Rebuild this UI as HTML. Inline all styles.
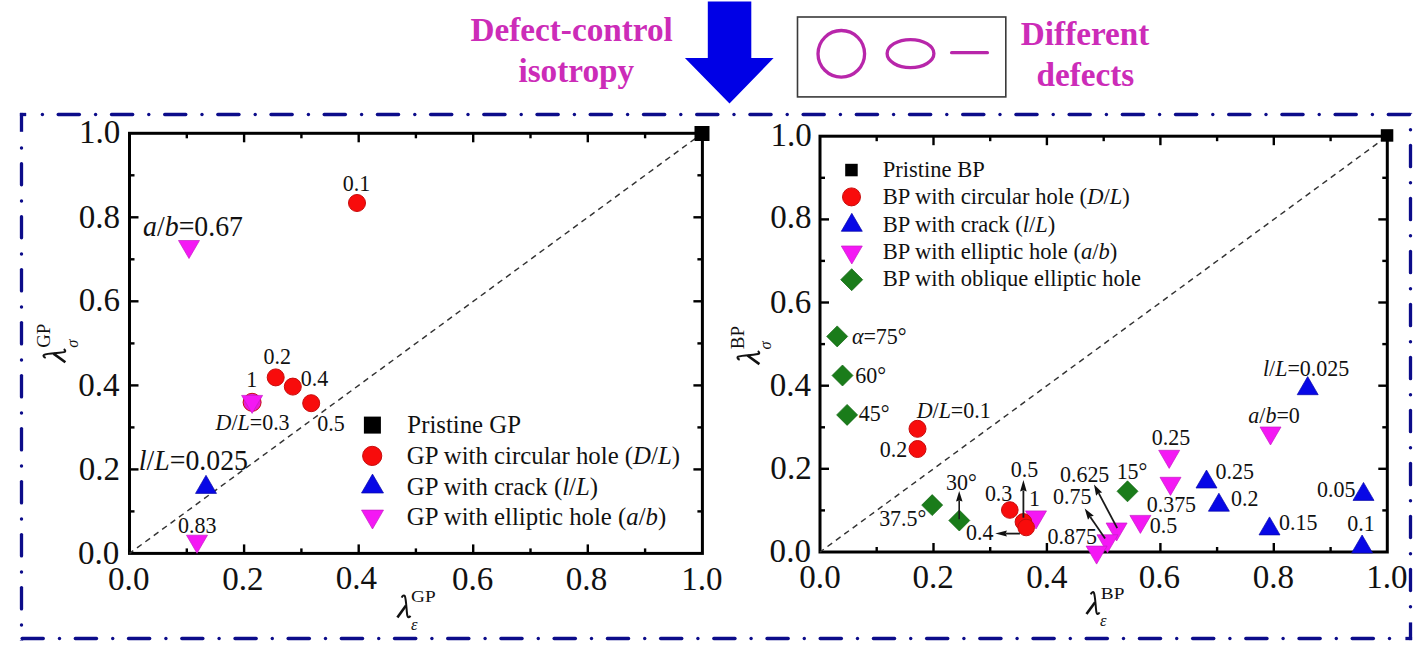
<!DOCTYPE html>
<html><head><meta charset="utf-8"><style>
html,body{margin:0;padding:0;background:#fff;}
svg{display:block;font-family:"Liberation Serif", serif;}
</style></head><body>
<svg width="1426" height="645" viewBox="0 0 1426 645">
<rect width="1426" height="645" fill="#fff"/>
<text id="t0" transform="translate(470.50 41.00) scale(1.0070 1.0000)" font-size="33" text-anchor="start" font-weight="bold" font-style="normal" fill="#cc2cb8" >Defect-control</text>
<text id="t1" transform="translate(518.40 81.80) scale(1.0070 1.0000)" font-size="33" text-anchor="start" font-weight="bold" font-style="normal" fill="#cc2cb8" >isotropy</text>
<text id="t2" transform="translate(1020.85 44.90) scale(1.0070 1.0000)" font-size="33" text-anchor="start" font-weight="bold" font-style="normal" fill="#cc2cb8" >Different</text>
<text id="t3" transform="translate(1036.45 86.00) scale(1.0070 1.0000)" font-size="33" text-anchor="start" font-weight="bold" font-style="normal" fill="#cc2cb8" >defects</text>
<polygon points="707.8,1.5 751.3,1.5 751.3,58 773.6,58 729.5,103.5 684.9,58 707.8,58" fill="#0000e6"/>
<rect x="797.5" y="17" width="208.3" height="79.9" fill="none" stroke="#3a3a3a" stroke-width="1.6"/>
<circle cx="841.3" cy="53.8" r="23.3" fill="none" stroke="#b826aa" stroke-width="3.3"/>
<ellipse cx="910.5" cy="53.6" rx="23.4" ry="14" fill="none" stroke="#b826aa" stroke-width="3.3"/>
<line x1="951.6" y1="52.7" x2="987.4" y2="52.7" stroke="#b826aa" stroke-width="3.3" stroke-linecap="round"/>
<line x1="19.9" y1="114.5" x2="26.2" y2="114.5" stroke="#0c0c8a" stroke-width="3.3" stroke-linecap="butt"/>
<circle cx="42.4" cy="114.5" r="1.7" fill="#0c0c8a"/>
<line x1="58.2" y1="114.5" x2="79.4" y2="114.5" stroke="#0c0c8a" stroke-width="3.3" stroke-linecap="round"/>
<circle cx="95.6" cy="114.5" r="1.7" fill="#0c0c8a"/>
<line x1="111.5" y1="114.5" x2="132.7" y2="114.5" stroke="#0c0c8a" stroke-width="3.3" stroke-linecap="round"/>
<circle cx="148.8" cy="114.5" r="1.7" fill="#0c0c8a"/>
<line x1="164.7" y1="114.5" x2="185.8" y2="114.5" stroke="#0c0c8a" stroke-width="3.3" stroke-linecap="round"/>
<circle cx="202.0" cy="114.5" r="1.7" fill="#0c0c8a"/>
<line x1="217.8" y1="114.5" x2="239.0" y2="114.5" stroke="#0c0c8a" stroke-width="3.3" stroke-linecap="round"/>
<circle cx="255.2" cy="114.5" r="1.7" fill="#0c0c8a"/>
<line x1="271.0" y1="114.5" x2="292.2" y2="114.5" stroke="#0c0c8a" stroke-width="3.3" stroke-linecap="round"/>
<circle cx="308.4" cy="114.5" r="1.7" fill="#0c0c8a"/>
<line x1="324.2" y1="114.5" x2="345.4" y2="114.5" stroke="#0c0c8a" stroke-width="3.3" stroke-linecap="round"/>
<circle cx="361.6" cy="114.5" r="1.7" fill="#0c0c8a"/>
<line x1="377.4" y1="114.5" x2="398.6" y2="114.5" stroke="#0c0c8a" stroke-width="3.3" stroke-linecap="round"/>
<circle cx="414.8" cy="114.5" r="1.7" fill="#0c0c8a"/>
<line x1="430.6" y1="114.5" x2="451.8" y2="114.5" stroke="#0c0c8a" stroke-width="3.3" stroke-linecap="round"/>
<circle cx="468.0" cy="114.5" r="1.7" fill="#0c0c8a"/>
<line x1="483.8" y1="114.5" x2="505.0" y2="114.5" stroke="#0c0c8a" stroke-width="3.3" stroke-linecap="round"/>
<circle cx="521.2" cy="114.5" r="1.7" fill="#0c0c8a"/>
<line x1="537.0" y1="114.5" x2="558.2" y2="114.5" stroke="#0c0c8a" stroke-width="3.3" stroke-linecap="round"/>
<circle cx="574.4" cy="114.5" r="1.7" fill="#0c0c8a"/>
<line x1="590.2" y1="114.5" x2="611.5" y2="114.5" stroke="#0c0c8a" stroke-width="3.3" stroke-linecap="round"/>
<circle cx="627.6" cy="114.5" r="1.7" fill="#0c0c8a"/>
<line x1="643.5" y1="114.5" x2="664.7" y2="114.5" stroke="#0c0c8a" stroke-width="3.3" stroke-linecap="round"/>
<circle cx="680.8" cy="114.5" r="1.7" fill="#0c0c8a"/>
<line x1="696.7" y1="114.5" x2="717.9" y2="114.5" stroke="#0c0c8a" stroke-width="3.3" stroke-linecap="round"/>
<circle cx="734.0" cy="114.5" r="1.7" fill="#0c0c8a"/>
<line x1="749.9" y1="114.5" x2="771.1" y2="114.5" stroke="#0c0c8a" stroke-width="3.3" stroke-linecap="round"/>
<circle cx="787.2" cy="114.5" r="1.7" fill="#0c0c8a"/>
<line x1="803.1" y1="114.5" x2="824.3" y2="114.5" stroke="#0c0c8a" stroke-width="3.3" stroke-linecap="round"/>
<circle cx="840.4" cy="114.5" r="1.7" fill="#0c0c8a"/>
<line x1="856.3" y1="114.5" x2="877.5" y2="114.5" stroke="#0c0c8a" stroke-width="3.3" stroke-linecap="round"/>
<circle cx="893.6" cy="114.5" r="1.7" fill="#0c0c8a"/>
<line x1="909.5" y1="114.5" x2="930.7" y2="114.5" stroke="#0c0c8a" stroke-width="3.3" stroke-linecap="round"/>
<circle cx="946.8" cy="114.5" r="1.7" fill="#0c0c8a"/>
<line x1="962.7" y1="114.5" x2="983.9" y2="114.5" stroke="#0c0c8a" stroke-width="3.3" stroke-linecap="round"/>
<circle cx="1000.0" cy="114.5" r="1.7" fill="#0c0c8a"/>
<line x1="1015.9" y1="114.5" x2="1037.1" y2="114.5" stroke="#0c0c8a" stroke-width="3.3" stroke-linecap="round"/>
<circle cx="1053.2" cy="114.5" r="1.7" fill="#0c0c8a"/>
<line x1="1069.1" y1="114.5" x2="1090.3" y2="114.5" stroke="#0c0c8a" stroke-width="3.3" stroke-linecap="round"/>
<circle cx="1106.4" cy="114.5" r="1.7" fill="#0c0c8a"/>
<line x1="1122.3" y1="114.5" x2="1143.5" y2="114.5" stroke="#0c0c8a" stroke-width="3.3" stroke-linecap="round"/>
<circle cx="1159.6" cy="114.5" r="1.7" fill="#0c0c8a"/>
<line x1="1175.5" y1="114.5" x2="1196.7" y2="114.5" stroke="#0c0c8a" stroke-width="3.3" stroke-linecap="round"/>
<circle cx="1212.8" cy="114.5" r="1.7" fill="#0c0c8a"/>
<line x1="1228.7" y1="114.5" x2="1249.9" y2="114.5" stroke="#0c0c8a" stroke-width="3.3" stroke-linecap="round"/>
<circle cx="1266.0" cy="114.5" r="1.7" fill="#0c0c8a"/>
<line x1="1281.9" y1="114.5" x2="1303.1" y2="114.5" stroke="#0c0c8a" stroke-width="3.3" stroke-linecap="round"/>
<circle cx="1319.2" cy="114.5" r="1.7" fill="#0c0c8a"/>
<line x1="1335.1" y1="114.5" x2="1356.3" y2="114.5" stroke="#0c0c8a" stroke-width="3.3" stroke-linecap="round"/>
<circle cx="1372.4" cy="114.5" r="1.7" fill="#0c0c8a"/>
<line x1="1388.3" y1="114.5" x2="1409.5" y2="114.5" stroke="#0c0c8a" stroke-width="3.3" stroke-linecap="round"/>
<line x1="22.1" y1="638.5" x2="43.3" y2="638.5" stroke="#0c0c8a" stroke-width="3.3" stroke-linecap="round"/>
<circle cx="59.5" cy="638.5" r="1.7" fill="#0c0c8a"/>
<line x1="75.3" y1="638.5" x2="96.5" y2="638.5" stroke="#0c0c8a" stroke-width="3.3" stroke-linecap="round"/>
<circle cx="112.7" cy="638.5" r="1.7" fill="#0c0c8a"/>
<line x1="128.5" y1="638.5" x2="149.7" y2="638.5" stroke="#0c0c8a" stroke-width="3.3" stroke-linecap="round"/>
<circle cx="165.9" cy="638.5" r="1.7" fill="#0c0c8a"/>
<line x1="181.8" y1="638.5" x2="202.9" y2="638.5" stroke="#0c0c8a" stroke-width="3.3" stroke-linecap="round"/>
<circle cx="219.1" cy="638.5" r="1.7" fill="#0c0c8a"/>
<line x1="235.0" y1="638.5" x2="256.2" y2="638.5" stroke="#0c0c8a" stroke-width="3.3" stroke-linecap="round"/>
<circle cx="272.3" cy="638.5" r="1.7" fill="#0c0c8a"/>
<line x1="288.1" y1="638.5" x2="309.4" y2="638.5" stroke="#0c0c8a" stroke-width="3.3" stroke-linecap="round"/>
<circle cx="325.5" cy="638.5" r="1.7" fill="#0c0c8a"/>
<line x1="341.3" y1="638.5" x2="362.6" y2="638.5" stroke="#0c0c8a" stroke-width="3.3" stroke-linecap="round"/>
<circle cx="378.7" cy="638.5" r="1.7" fill="#0c0c8a"/>
<line x1="394.5" y1="638.5" x2="415.8" y2="638.5" stroke="#0c0c8a" stroke-width="3.3" stroke-linecap="round"/>
<circle cx="431.9" cy="638.5" r="1.7" fill="#0c0c8a"/>
<line x1="447.7" y1="638.5" x2="468.9" y2="638.5" stroke="#0c0c8a" stroke-width="3.3" stroke-linecap="round"/>
<circle cx="485.1" cy="638.5" r="1.7" fill="#0c0c8a"/>
<line x1="500.9" y1="638.5" x2="522.1" y2="638.5" stroke="#0c0c8a" stroke-width="3.3" stroke-linecap="round"/>
<circle cx="538.3" cy="638.5" r="1.7" fill="#0c0c8a"/>
<line x1="554.1" y1="638.5" x2="575.4" y2="638.5" stroke="#0c0c8a" stroke-width="3.3" stroke-linecap="round"/>
<circle cx="591.5" cy="638.5" r="1.7" fill="#0c0c8a"/>
<line x1="607.4" y1="638.5" x2="628.6" y2="638.5" stroke="#0c0c8a" stroke-width="3.3" stroke-linecap="round"/>
<circle cx="644.7" cy="638.5" r="1.7" fill="#0c0c8a"/>
<line x1="660.6" y1="638.5" x2="681.8" y2="638.5" stroke="#0c0c8a" stroke-width="3.3" stroke-linecap="round"/>
<circle cx="697.9" cy="638.5" r="1.7" fill="#0c0c8a"/>
<line x1="713.8" y1="638.5" x2="735.0" y2="638.5" stroke="#0c0c8a" stroke-width="3.3" stroke-linecap="round"/>
<circle cx="751.1" cy="638.5" r="1.7" fill="#0c0c8a"/>
<line x1="767.0" y1="638.5" x2="788.2" y2="638.5" stroke="#0c0c8a" stroke-width="3.3" stroke-linecap="round"/>
<circle cx="804.3" cy="638.5" r="1.7" fill="#0c0c8a"/>
<line x1="820.2" y1="638.5" x2="841.4" y2="638.5" stroke="#0c0c8a" stroke-width="3.3" stroke-linecap="round"/>
<circle cx="857.5" cy="638.5" r="1.7" fill="#0c0c8a"/>
<line x1="873.4" y1="638.5" x2="894.6" y2="638.5" stroke="#0c0c8a" stroke-width="3.3" stroke-linecap="round"/>
<circle cx="910.7" cy="638.5" r="1.7" fill="#0c0c8a"/>
<line x1="926.6" y1="638.5" x2="947.8" y2="638.5" stroke="#0c0c8a" stroke-width="3.3" stroke-linecap="round"/>
<circle cx="963.9" cy="638.5" r="1.7" fill="#0c0c8a"/>
<line x1="979.8" y1="638.5" x2="1001.0" y2="638.5" stroke="#0c0c8a" stroke-width="3.3" stroke-linecap="round"/>
<circle cx="1017.1" cy="638.5" r="1.7" fill="#0c0c8a"/>
<line x1="1033.0" y1="638.5" x2="1054.2" y2="638.5" stroke="#0c0c8a" stroke-width="3.3" stroke-linecap="round"/>
<circle cx="1070.3" cy="638.5" r="1.7" fill="#0c0c8a"/>
<line x1="1086.2" y1="638.5" x2="1107.4" y2="638.5" stroke="#0c0c8a" stroke-width="3.3" stroke-linecap="round"/>
<circle cx="1123.5" cy="638.5" r="1.7" fill="#0c0c8a"/>
<line x1="1139.4" y1="638.5" x2="1160.6" y2="638.5" stroke="#0c0c8a" stroke-width="3.3" stroke-linecap="round"/>
<circle cx="1176.7" cy="638.5" r="1.7" fill="#0c0c8a"/>
<line x1="1192.6" y1="638.5" x2="1213.8" y2="638.5" stroke="#0c0c8a" stroke-width="3.3" stroke-linecap="round"/>
<circle cx="1229.9" cy="638.5" r="1.7" fill="#0c0c8a"/>
<line x1="1245.8" y1="638.5" x2="1267.0" y2="638.5" stroke="#0c0c8a" stroke-width="3.3" stroke-linecap="round"/>
<circle cx="1283.1" cy="638.5" r="1.7" fill="#0c0c8a"/>
<line x1="1299.0" y1="638.5" x2="1320.2" y2="638.5" stroke="#0c0c8a" stroke-width="3.3" stroke-linecap="round"/>
<circle cx="1336.3" cy="638.5" r="1.7" fill="#0c0c8a"/>
<line x1="1352.2" y1="638.5" x2="1373.4" y2="638.5" stroke="#0c0c8a" stroke-width="3.3" stroke-linecap="round"/>
<circle cx="1389.5" cy="638.5" r="1.7" fill="#0c0c8a"/>
<line x1="1405.4" y1="638.5" x2="1412.1" y2="638.5" stroke="#0c0c8a" stroke-width="3.3" stroke-linecap="butt"/>
<line x1="21.5" y1="112.9" x2="21.5" y2="131.8" stroke="#0c0c8a" stroke-width="3.3" stroke-linecap="butt"/>
<circle cx="21.5" cy="148.0" r="1.7" fill="#0c0c8a"/>
<line x1="21.5" y1="163.7" x2="21.5" y2="184.8" stroke="#0c0c8a" stroke-width="3.3" stroke-linecap="round"/>
<circle cx="21.5" cy="201.0" r="1.7" fill="#0c0c8a"/>
<line x1="21.5" y1="216.7" x2="21.5" y2="237.8" stroke="#0c0c8a" stroke-width="3.3" stroke-linecap="round"/>
<circle cx="21.5" cy="254.0" r="1.7" fill="#0c0c8a"/>
<line x1="21.5" y1="269.6" x2="21.5" y2="290.9" stroke="#0c0c8a" stroke-width="3.3" stroke-linecap="round"/>
<circle cx="21.5" cy="307.0" r="1.7" fill="#0c0c8a"/>
<line x1="21.5" y1="322.6" x2="21.5" y2="343.9" stroke="#0c0c8a" stroke-width="3.3" stroke-linecap="round"/>
<circle cx="21.5" cy="360.0" r="1.7" fill="#0c0c8a"/>
<line x1="21.5" y1="375.6" x2="21.5" y2="396.9" stroke="#0c0c8a" stroke-width="3.3" stroke-linecap="round"/>
<circle cx="21.5" cy="413.0" r="1.7" fill="#0c0c8a"/>
<line x1="21.5" y1="428.6" x2="21.5" y2="449.9" stroke="#0c0c8a" stroke-width="3.3" stroke-linecap="round"/>
<circle cx="21.5" cy="466.0" r="1.7" fill="#0c0c8a"/>
<line x1="21.5" y1="481.6" x2="21.5" y2="502.9" stroke="#0c0c8a" stroke-width="3.3" stroke-linecap="round"/>
<circle cx="21.5" cy="519.0" r="1.7" fill="#0c0c8a"/>
<line x1="21.5" y1="534.6" x2="21.5" y2="555.9" stroke="#0c0c8a" stroke-width="3.3" stroke-linecap="round"/>
<circle cx="21.5" cy="572.0" r="1.7" fill="#0c0c8a"/>
<line x1="21.5" y1="587.6" x2="21.5" y2="608.9" stroke="#0c0c8a" stroke-width="3.3" stroke-linecap="round"/>
<circle cx="21.5" cy="625.0" r="1.7" fill="#0c0c8a"/>
<line x1="21.5" y1="640.6" x2="21.5" y2="640.1" stroke="#0c0c8a" stroke-width="3.3" stroke-linecap="butt"/>
<line x1="1410.5" y1="112.9" x2="1410.5" y2="113.7" stroke="#0c0c8a" stroke-width="3.3" stroke-linecap="butt"/>
<circle cx="1410.5" cy="129.8" r="1.7" fill="#0c0c8a"/>
<line x1="1410.5" y1="145.5" x2="1410.5" y2="166.7" stroke="#0c0c8a" stroke-width="3.3" stroke-linecap="round"/>
<circle cx="1410.5" cy="182.8" r="1.7" fill="#0c0c8a"/>
<line x1="1410.5" y1="198.5" x2="1410.5" y2="219.7" stroke="#0c0c8a" stroke-width="3.3" stroke-linecap="round"/>
<circle cx="1410.5" cy="235.8" r="1.7" fill="#0c0c8a"/>
<line x1="1410.5" y1="251.5" x2="1410.5" y2="272.7" stroke="#0c0c8a" stroke-width="3.3" stroke-linecap="round"/>
<circle cx="1410.5" cy="288.8" r="1.7" fill="#0c0c8a"/>
<line x1="1410.5" y1="304.4" x2="1410.5" y2="325.7" stroke="#0c0c8a" stroke-width="3.3" stroke-linecap="round"/>
<circle cx="1410.5" cy="341.8" r="1.7" fill="#0c0c8a"/>
<line x1="1410.5" y1="357.4" x2="1410.5" y2="378.7" stroke="#0c0c8a" stroke-width="3.3" stroke-linecap="round"/>
<circle cx="1410.5" cy="394.8" r="1.7" fill="#0c0c8a"/>
<line x1="1410.5" y1="410.4" x2="1410.5" y2="431.7" stroke="#0c0c8a" stroke-width="3.3" stroke-linecap="round"/>
<circle cx="1410.5" cy="447.8" r="1.7" fill="#0c0c8a"/>
<line x1="1410.5" y1="463.4" x2="1410.5" y2="484.7" stroke="#0c0c8a" stroke-width="3.3" stroke-linecap="round"/>
<circle cx="1410.5" cy="500.8" r="1.7" fill="#0c0c8a"/>
<line x1="1410.5" y1="516.4" x2="1410.5" y2="537.6" stroke="#0c0c8a" stroke-width="3.3" stroke-linecap="round"/>
<circle cx="1410.5" cy="553.8" r="1.7" fill="#0c0c8a"/>
<line x1="1410.5" y1="569.4" x2="1410.5" y2="590.6" stroke="#0c0c8a" stroke-width="3.3" stroke-linecap="round"/>
<circle cx="1410.5" cy="606.8" r="1.7" fill="#0c0c8a"/>
<line x1="1410.5" y1="622.4" x2="1410.5" y2="640.1" stroke="#0c0c8a" stroke-width="3.3" stroke-linecap="butt"/>
<rect x="129.5" y="133.3" width="572.9" height="420.09999999999997" fill="none" stroke="#000" stroke-width="3"/>
<line x1="244.1" y1="553.4" x2="244.1" y2="544.4" stroke="#000" stroke-width="2.4"/>
<line x1="244.1" y1="133.3" x2="244.1" y2="142.3" stroke="#000" stroke-width="2.4"/>
<line x1="358.7" y1="553.4" x2="358.7" y2="544.4" stroke="#000" stroke-width="2.4"/>
<line x1="358.7" y1="133.3" x2="358.7" y2="142.3" stroke="#000" stroke-width="2.4"/>
<line x1="473.2" y1="553.4" x2="473.2" y2="544.4" stroke="#000" stroke-width="2.4"/>
<line x1="473.2" y1="133.3" x2="473.2" y2="142.3" stroke="#000" stroke-width="2.4"/>
<line x1="587.8" y1="553.4" x2="587.8" y2="544.4" stroke="#000" stroke-width="2.4"/>
<line x1="587.8" y1="133.3" x2="587.8" y2="142.3" stroke="#000" stroke-width="2.4"/>
<line x1="186.8" y1="553.4" x2="186.8" y2="548.4" stroke="#000" stroke-width="2.4"/>
<line x1="186.8" y1="133.3" x2="186.8" y2="138.3" stroke="#000" stroke-width="2.4"/>
<line x1="301.4" y1="553.4" x2="301.4" y2="548.4" stroke="#000" stroke-width="2.4"/>
<line x1="301.4" y1="133.3" x2="301.4" y2="138.3" stroke="#000" stroke-width="2.4"/>
<line x1="415.9" y1="553.4" x2="415.9" y2="548.4" stroke="#000" stroke-width="2.4"/>
<line x1="415.9" y1="133.3" x2="415.9" y2="138.3" stroke="#000" stroke-width="2.4"/>
<line x1="530.5" y1="553.4" x2="530.5" y2="548.4" stroke="#000" stroke-width="2.4"/>
<line x1="530.5" y1="133.3" x2="530.5" y2="138.3" stroke="#000" stroke-width="2.4"/>
<line x1="645.1" y1="553.4" x2="645.1" y2="548.4" stroke="#000" stroke-width="2.4"/>
<line x1="645.1" y1="133.3" x2="645.1" y2="138.3" stroke="#000" stroke-width="2.4"/>
<line x1="129.5" y1="469.4" x2="138.5" y2="469.4" stroke="#000" stroke-width="2.4"/>
<line x1="702.4" y1="469.4" x2="693.4" y2="469.4" stroke="#000" stroke-width="2.4"/>
<line x1="129.5" y1="385.4" x2="138.5" y2="385.4" stroke="#000" stroke-width="2.4"/>
<line x1="702.4" y1="385.4" x2="693.4" y2="385.4" stroke="#000" stroke-width="2.4"/>
<line x1="129.5" y1="301.3" x2="138.5" y2="301.3" stroke="#000" stroke-width="2.4"/>
<line x1="702.4" y1="301.3" x2="693.4" y2="301.3" stroke="#000" stroke-width="2.4"/>
<line x1="129.5" y1="217.3" x2="138.5" y2="217.3" stroke="#000" stroke-width="2.4"/>
<line x1="702.4" y1="217.3" x2="693.4" y2="217.3" stroke="#000" stroke-width="2.4"/>
<line x1="129.5" y1="511.4" x2="134.5" y2="511.4" stroke="#000" stroke-width="2.4"/>
<line x1="702.4" y1="511.4" x2="697.4" y2="511.4" stroke="#000" stroke-width="2.4"/>
<line x1="129.5" y1="427.4" x2="134.5" y2="427.4" stroke="#000" stroke-width="2.4"/>
<line x1="702.4" y1="427.4" x2="697.4" y2="427.4" stroke="#000" stroke-width="2.4"/>
<line x1="129.5" y1="343.4" x2="134.5" y2="343.4" stroke="#000" stroke-width="2.4"/>
<line x1="702.4" y1="343.4" x2="697.4" y2="343.4" stroke="#000" stroke-width="2.4"/>
<line x1="129.5" y1="259.3" x2="134.5" y2="259.3" stroke="#000" stroke-width="2.4"/>
<line x1="702.4" y1="259.3" x2="697.4" y2="259.3" stroke="#000" stroke-width="2.4"/>
<line x1="129.5" y1="175.3" x2="134.5" y2="175.3" stroke="#000" stroke-width="2.4"/>
<line x1="702.4" y1="175.3" x2="697.4" y2="175.3" stroke="#000" stroke-width="2.4"/>
<line x1="129.5" y1="553.4" x2="702.4" y2="133.3" stroke="#333" stroke-width="1.45" stroke-dasharray="5.8 4.6" stroke-dashoffset="1.1"/>
<text id="t4" transform="translate(119.36 564.43) scale(1.0180 1.0360)" font-size="32.5" text-anchor="end" font-weight="normal" font-style="normal" fill="#111" >0.0</text>
<text id="t5" transform="translate(128.75 589.98) scale(1.0180 1.0360)" font-size="32.5" text-anchor="middle" font-weight="normal" font-style="normal" fill="#111" >0.0</text>
<text id="t6" transform="translate(120.01 479.73) scale(1.0180 1.0360)" font-size="32.5" text-anchor="end" font-weight="normal" font-style="normal" fill="#111" >0.2</text>
<text id="t7" transform="translate(242.80 589.88) scale(1.0180 1.0360)" font-size="32.5" text-anchor="middle" font-weight="normal" font-style="normal" fill="#111" >0.2</text>
<text id="t8" transform="translate(119.54 396.28) scale(1.0180 1.0360)" font-size="32.5" text-anchor="end" font-weight="normal" font-style="normal" fill="#111" >0.4</text>
<text id="t9" transform="translate(356.42 589.47) scale(1.0180 1.0360)" font-size="32.5" text-anchor="middle" font-weight="normal" font-style="normal" fill="#111" >0.4</text>
<text id="t10" transform="translate(120.03 310.98) scale(1.0180 1.0360)" font-size="32.5" text-anchor="end" font-weight="normal" font-style="normal" fill="#111" >0.6</text>
<text id="t11" transform="translate(472.67 589.88) scale(1.0180 1.0360)" font-size="32.5" text-anchor="middle" font-weight="normal" font-style="normal" fill="#111" >0.6</text>
<text id="t12" transform="translate(120.07 228.17) scale(1.0180 1.0360)" font-size="32.5" text-anchor="end" font-weight="normal" font-style="normal" fill="#111" >0.8</text>
<text id="t13" transform="translate(586.49 589.88) scale(1.0180 1.0360)" font-size="32.5" text-anchor="middle" font-weight="normal" font-style="normal" fill="#111" >0.8</text>
<text id="t14" transform="translate(120.34 143.28) scale(1.0180 1.0360)" font-size="32.5" text-anchor="end" font-weight="normal" font-style="normal" fill="#111" >1.0</text>
<text id="t15" transform="translate(701.94 589.88) scale(1.0180 1.0360)" font-size="32.5" text-anchor="middle" font-weight="normal" font-style="normal" fill="#111" >1.0</text>
<rect x="820.0" y="136.2" width="567.3" height="415.8" fill="none" stroke="#000" stroke-width="3"/>
<line x1="933.5" y1="552.0" x2="933.5" y2="543.0" stroke="#000" stroke-width="2.4"/>
<line x1="933.5" y1="136.2" x2="933.5" y2="145.2" stroke="#000" stroke-width="2.4"/>
<line x1="1046.9" y1="552.0" x2="1046.9" y2="543.0" stroke="#000" stroke-width="2.4"/>
<line x1="1046.9" y1="136.2" x2="1046.9" y2="145.2" stroke="#000" stroke-width="2.4"/>
<line x1="1160.4" y1="552.0" x2="1160.4" y2="543.0" stroke="#000" stroke-width="2.4"/>
<line x1="1160.4" y1="136.2" x2="1160.4" y2="145.2" stroke="#000" stroke-width="2.4"/>
<line x1="1273.8" y1="552.0" x2="1273.8" y2="543.0" stroke="#000" stroke-width="2.4"/>
<line x1="1273.8" y1="136.2" x2="1273.8" y2="145.2" stroke="#000" stroke-width="2.4"/>
<line x1="876.7" y1="552.0" x2="876.7" y2="547.0" stroke="#000" stroke-width="2.4"/>
<line x1="876.7" y1="136.2" x2="876.7" y2="141.2" stroke="#000" stroke-width="2.4"/>
<line x1="990.2" y1="552.0" x2="990.2" y2="547.0" stroke="#000" stroke-width="2.4"/>
<line x1="990.2" y1="136.2" x2="990.2" y2="141.2" stroke="#000" stroke-width="2.4"/>
<line x1="1103.7" y1="552.0" x2="1103.7" y2="547.0" stroke="#000" stroke-width="2.4"/>
<line x1="1103.7" y1="136.2" x2="1103.7" y2="141.2" stroke="#000" stroke-width="2.4"/>
<line x1="1217.1" y1="552.0" x2="1217.1" y2="547.0" stroke="#000" stroke-width="2.4"/>
<line x1="1217.1" y1="136.2" x2="1217.1" y2="141.2" stroke="#000" stroke-width="2.4"/>
<line x1="1330.6" y1="552.0" x2="1330.6" y2="547.0" stroke="#000" stroke-width="2.4"/>
<line x1="1330.6" y1="136.2" x2="1330.6" y2="141.2" stroke="#000" stroke-width="2.4"/>
<line x1="820.0" y1="468.8" x2="829.0" y2="468.8" stroke="#000" stroke-width="2.4"/>
<line x1="1387.3" y1="468.8" x2="1378.3" y2="468.8" stroke="#000" stroke-width="2.4"/>
<line x1="820.0" y1="385.7" x2="829.0" y2="385.7" stroke="#000" stroke-width="2.4"/>
<line x1="1387.3" y1="385.7" x2="1378.3" y2="385.7" stroke="#000" stroke-width="2.4"/>
<line x1="820.0" y1="302.5" x2="829.0" y2="302.5" stroke="#000" stroke-width="2.4"/>
<line x1="1387.3" y1="302.5" x2="1378.3" y2="302.5" stroke="#000" stroke-width="2.4"/>
<line x1="820.0" y1="219.4" x2="829.0" y2="219.4" stroke="#000" stroke-width="2.4"/>
<line x1="1387.3" y1="219.4" x2="1378.3" y2="219.4" stroke="#000" stroke-width="2.4"/>
<line x1="820.0" y1="510.4" x2="825.0" y2="510.4" stroke="#000" stroke-width="2.4"/>
<line x1="1387.3" y1="510.4" x2="1382.3" y2="510.4" stroke="#000" stroke-width="2.4"/>
<line x1="820.0" y1="427.3" x2="825.0" y2="427.3" stroke="#000" stroke-width="2.4"/>
<line x1="1387.3" y1="427.3" x2="1382.3" y2="427.3" stroke="#000" stroke-width="2.4"/>
<line x1="820.0" y1="344.1" x2="825.0" y2="344.1" stroke="#000" stroke-width="2.4"/>
<line x1="1387.3" y1="344.1" x2="1382.3" y2="344.1" stroke="#000" stroke-width="2.4"/>
<line x1="820.0" y1="260.9" x2="825.0" y2="260.9" stroke="#000" stroke-width="2.4"/>
<line x1="1387.3" y1="260.9" x2="1382.3" y2="260.9" stroke="#000" stroke-width="2.4"/>
<line x1="820.0" y1="177.8" x2="825.0" y2="177.8" stroke="#000" stroke-width="2.4"/>
<line x1="1387.3" y1="177.8" x2="1382.3" y2="177.8" stroke="#000" stroke-width="2.4"/>
<line x1="820.0" y1="552.0" x2="1387.3" y2="136.2" stroke="#333" stroke-width="1.45" stroke-dasharray="5.8 4.6" stroke-dashoffset="1.1"/>
<text id="t16" transform="translate(810.96 562.37) scale(1.0180 1.0360)" font-size="32.5" text-anchor="end" font-weight="normal" font-style="normal" fill="#111" >0.0</text>
<text id="t17" transform="translate(820.00 588.13) scale(1.0180 1.0360)" font-size="32.5" text-anchor="middle" font-weight="normal" font-style="normal" fill="#111" >0.0</text>
<text id="t18" transform="translate(811.71 479.38) scale(1.0180 1.0360)" font-size="32.5" text-anchor="end" font-weight="normal" font-style="normal" fill="#111" >0.2</text>
<text id="t19" transform="translate(933.14 588.13) scale(1.0180 1.0360)" font-size="32.5" text-anchor="middle" font-weight="normal" font-style="normal" fill="#111" >0.2</text>
<text id="t20" transform="translate(811.09 396.37) scale(1.0180 1.0360)" font-size="32.5" text-anchor="end" font-weight="normal" font-style="normal" fill="#111" >0.4</text>
<text id="t21" transform="translate(1046.82 588.13) scale(1.0180 1.0360)" font-size="32.5" text-anchor="middle" font-weight="normal" font-style="normal" fill="#111" >0.4</text>
<text id="t22" transform="translate(811.33 313.37) scale(1.0180 1.0360)" font-size="32.5" text-anchor="end" font-weight="normal" font-style="normal" fill="#111" >0.6</text>
<text id="t23" transform="translate(1159.42 588.13) scale(1.0180 1.0360)" font-size="32.5" text-anchor="middle" font-weight="normal" font-style="normal" fill="#111" >0.6</text>
<text id="t24" transform="translate(811.61 228.43) scale(1.0180 1.0360)" font-size="32.5" text-anchor="end" font-weight="normal" font-style="normal" fill="#111" >0.8</text>
<text id="t25" transform="translate(1273.45 588.13) scale(1.0180 1.0360)" font-size="32.5" text-anchor="middle" font-weight="normal" font-style="normal" fill="#111" >0.8</text>
<text id="t26" transform="translate(811.84 146.38) scale(1.0180 1.0360)" font-size="32.5" text-anchor="end" font-weight="normal" font-style="normal" fill="#111" >1.0</text>
<text id="t27" transform="translate(1386.95 588.13) scale(1.0180 1.0360)" font-size="32.5" text-anchor="middle" font-weight="normal" font-style="normal" fill="#111" >1.0</text>
<g transform="translate(396.6 618.3)"><path d="M 5.1 -20.6 C 5.8 -22.6 7.4 -23.6 8.2 -22.2 C 9.2 -20.4 9.6 -14 10.2 -7 C 10.6 -2.5 11 -0.8 12 -1.0 C 12.8 -1.2 13.4 -1.8 13.8 -2.6" fill="none" stroke="#111" stroke-width="2.0"/><path d="M 0.8 -0.9 L 9.4 -12.8" fill="none" stroke="#111" stroke-width="2.6"/><text transform="translate(14.5 -16.6) scale(1.07 0.97)" font-size="18" fill="#111">GP</text><text x="14.3" y="11.6" font-size="16.5" font-style="italic" fill="#111">&#949;</text></g>
<g transform="translate(1085.7 615)"><path d="M 5.1 -20.6 C 5.8 -22.6 7.4 -23.6 8.2 -22.2 C 9.2 -20.4 9.6 -14 10.2 -7 C 10.6 -2.5 11 -0.8 12 -1.0 C 12.8 -1.2 13.4 -1.8 13.8 -2.6" fill="none" stroke="#111" stroke-width="2.0"/><path d="M 0.8 -0.9 L 9.4 -12.8" fill="none" stroke="#111" stroke-width="2.6"/><text transform="translate(15.1 -16.1) scale(1.07 0.97)" font-size="18" fill="#111">BP</text><text x="14.3" y="11.4" font-size="16.5" font-style="italic" fill="#111">&#949;</text></g>
<g transform="translate(66.3 363) rotate(-90)"><path d="M 5.1 -20.6 C 5.8 -22.6 7.4 -23.6 8.2 -22.2 C 9.2 -20.4 9.6 -14 10.2 -7 C 10.6 -2.5 11 -0.8 12 -1.0 C 12.8 -1.2 13.4 -1.8 13.8 -2.6" fill="none" stroke="#111" stroke-width="2.0"/><path d="M 0.8 -0.9 L 9.4 -12.8" fill="none" stroke="#111" stroke-width="2.6"/><text transform="translate(15.2 -16.1) scale(1.05 1.07)" font-size="18" fill="#111">GP</text><text x="15.2" y="11.5" font-size="16.5" font-style="italic" fill="#111">&#963;</text></g>
<g transform="translate(760.3 364.9) rotate(-90)"><path d="M 5.1 -20.6 C 5.8 -22.6 7.4 -23.6 8.2 -22.2 C 9.2 -20.4 9.6 -14 10.2 -7 C 10.6 -2.5 11 -0.8 12 -1.0 C 12.8 -1.2 13.4 -1.8 13.8 -2.6" fill="none" stroke="#111" stroke-width="2.0"/><path d="M 0.8 -0.9 L 9.4 -12.8" fill="none" stroke="#111" stroke-width="2.6"/><text transform="translate(15.7 -16.1) scale(1.05 1.07)" font-size="18" fill="#111">BP</text><text x="15.3" y="11.1" font-size="16.5" font-style="italic" fill="#111">&#963;</text></g>
<rect x="694.5" y="126.0" width="15" height="15" fill="#000"/>
<circle cx="357.0" cy="203.0" r="8.5" fill="#f80c0c" stroke="#c80c0c" stroke-width="1"/>
<text id="t28" transform="translate(342.72 190.51) scale(1.0000 1.0240)" font-size="22" text-anchor="start" font-weight="normal" font-style="normal" fill="#111" >0.1</text>
<polygon points="178.5,240.5 199.5,240.5 189.0,258.5" fill="#f418f4" stroke="#c41cc4" stroke-width="0.7"/>
<text id="t29" transform="translate(143.08 235.71) scale(1.0700 1.1070)" font-size="26" text-anchor="start" font-weight="normal" font-style="normal" fill="#111" ><tspan font-style="italic">a</tspan>/<tspan font-style="italic">b</tspan>=0.67</text>
<circle cx="275.7" cy="377.4" r="8.5" fill="#f80c0c" stroke="#c80c0c" stroke-width="1"/>
<circle cx="292.8" cy="386.6" r="8.5" fill="#f80c0c" stroke="#c80c0c" stroke-width="1"/>
<circle cx="311.2" cy="403.2" r="8.5" fill="#f80c0c" stroke="#c80c0c" stroke-width="1"/>
<text id="t30" transform="translate(263.50 363.76) scale(1.0000 1.0240)" font-size="22" text-anchor="start" font-weight="normal" font-style="normal" fill="#111" >0.2</text>
<text id="t31" transform="translate(300.68 385.86) scale(1.0000 1.0240)" font-size="22" text-anchor="start" font-weight="normal" font-style="normal" fill="#111" >0.4</text>
<text id="t32" transform="translate(317.37 431.16) scale(1.0000 1.0240)" font-size="22" text-anchor="start" font-weight="normal" font-style="normal" fill="#111" >0.5</text>
<circle cx="252.1" cy="402.3" r="9" fill="#e81ad8" stroke="#c80c0c" stroke-width="1"/>
<polygon points="241.6,395.4 262.6,395.4 252.1,413.4" fill="#f418f4" stroke="#c41cc4" stroke-width="0.7"/>
<text id="t33" transform="translate(246.13 387.41) scale(1.0000 1.0240)" font-size="22" text-anchor="start" font-weight="normal" font-style="normal" fill="#111" >1</text>
<text id="t34" transform="translate(215.51 430.17) scale(1.0000 1.0240)" font-size="22" text-anchor="start" font-weight="normal" font-style="normal" fill="#111" ><tspan font-style="italic">D</tspan>/<tspan font-style="italic">L</tspan>=0.3</text>
<polygon points="195.5,493.4 216.5,493.4 206.0,475.3" fill="#0808e6" stroke="#0808a8" stroke-width="0.7"/>
<text id="t35" transform="translate(138.75 470.25) scale(1.0700 1.1070)" font-size="26" text-anchor="start" font-weight="normal" font-style="normal" fill="#111" ><tspan font-style="italic">l</tspan>/<tspan font-style="italic">L</tspan>=0.025</text>
<polygon points="186.5,535.2 207.5,535.2 197.0,553.3" fill="#f418f4" stroke="#c41cc4" stroke-width="0.7"/>
<text id="t36" transform="translate(177.97 533.21) scale(1.0000 1.0240)" font-size="22" text-anchor="start" font-weight="normal" font-style="normal" fill="#111" >0.83</text>
<rect x="363.9" y="416.6" width="17" height="17" fill="#000"/>
<circle cx="372.2" cy="455.9" r="9.6" fill="#f80c0c" stroke="#c80c0c" stroke-width="1"/>
<polygon points="361.5,493.0 383.5,493.0 372.5,474.1" fill="#0808e6" stroke="#0808a8" stroke-width="0.7"/>
<polygon points="361.5,510.1 383.5,510.1 372.5,529.0" fill="#f418f4" stroke="#c41cc4" stroke-width="0.7"/>
<text id="t37" transform="translate(407.35 433.40) scale(0.9920 1.0000)" font-size="25" text-anchor="start" font-weight="normal" font-style="normal" fill="#111" >Pristine GP</text>
<text id="t38" transform="translate(406.85 464.00) scale(0.9920 1.0000)" font-size="25" text-anchor="start" font-weight="normal" font-style="normal" fill="#111" >GP with circular hole (<tspan font-style="italic">D</tspan>/<tspan font-style="italic">L</tspan>)</text>
<text id="t39" transform="translate(406.85 494.60) scale(0.9920 1.0000)" font-size="25" text-anchor="start" font-weight="normal" font-style="normal" fill="#111" >GP with crack (<tspan font-style="italic">l</tspan>/<tspan font-style="italic">L</tspan>)</text>
<text id="t40" transform="translate(406.85 525.20) scale(0.9920 1.0000)" font-size="25" text-anchor="start" font-weight="normal" font-style="normal" fill="#111" >GP with elliptic hole (<tspan font-style="italic">a</tspan>/<tspan font-style="italic">b</tspan>)</text>
<rect x="1380.8" y="129.2" width="12.5" height="12.5" fill="#000"/>
<rect x="845.2" y="163.8" width="12.5" height="12.5" fill="#000"/>
<circle cx="851.5" cy="196.9" r="9" fill="#f80c0c" stroke="#c80c0c" stroke-width="1"/>
<polygon points="841.3,231.3 862.3,231.3 851.8,213.3" fill="#0808e6" stroke="#0808a8" stroke-width="0.7"/>
<polygon points="841.3,246.0 862.3,246.0 851.8,264.0" fill="#f418f4" stroke="#c41cc4" stroke-width="0.7"/>
<polygon points="851.7,268.7 862.7,279.7 851.7,290.7 840.7,279.7" fill="#1a7c1a" stroke="#106410" stroke-width="0.7"/>
<text id="t41" transform="translate(882.70 177.20) scale(0.9800 1.0000)" font-size="23" text-anchor="start" font-weight="normal" font-style="normal" fill="#111" >Pristine BP</text>
<text id="t42" transform="translate(882.70 204.40) scale(0.9800 1.0000)" font-size="23" text-anchor="start" font-weight="normal" font-style="normal" fill="#111" >BP with circular hole (<tspan font-style="italic">D</tspan>/<tspan font-style="italic">L</tspan>)</text>
<text id="t43" transform="translate(882.70 231.70) scale(0.9800 1.0000)" font-size="23" text-anchor="start" font-weight="normal" font-style="normal" fill="#111" >BP with crack (<tspan font-style="italic">l</tspan>/<tspan font-style="italic">L</tspan>)</text>
<text id="t44" transform="translate(882.70 259.00) scale(0.9800 1.0000)" font-size="23" text-anchor="start" font-weight="normal" font-style="normal" fill="#111" >BP with elliptic hole (<tspan font-style="italic">a</tspan>/<tspan font-style="italic">b</tspan>)</text>
<text id="t45" transform="translate(882.70 286.30) scale(0.9800 1.0000)" font-size="23" text-anchor="start" font-weight="normal" font-style="normal" fill="#111" >BP with oblique elliptic hole</text>
<polygon points="837.2,325.9 847.7,336.4 837.2,346.9 826.7,336.4" fill="#1a7c1a" stroke="#106410" stroke-width="0.7"/>
<polygon points="842.5,365.0 853.0,375.5 842.5,386.0 832.0,375.5" fill="#1a7c1a" stroke="#106410" stroke-width="0.7"/>
<polygon points="847.1,404.4 857.6,414.9 847.1,425.4 836.6,414.9" fill="#1a7c1a" stroke="#106410" stroke-width="0.7"/>
<text id="t46" transform="translate(851.90 343.96) scale(1.0000 1.0240)" font-size="22" text-anchor="start" font-weight="normal" font-style="normal" fill="#111" ><tspan font-style="italic">&#945;</tspan>=75&#176;</text>
<text id="t47" transform="translate(855.32 382.71) scale(1.0000 1.0240)" font-size="22" text-anchor="start" font-weight="normal" font-style="normal" fill="#111" >60&#176;</text>
<text id="t48" transform="translate(858.68 421.46) scale(1.0000 1.0240)" font-size="22" text-anchor="start" font-weight="normal" font-style="normal" fill="#111" >45&#176;</text>
<polygon points="932.2,494.6 942.7,505.1 932.2,515.6 921.7,505.1" fill="#1a7c1a" stroke="#106410" stroke-width="0.7"/>
<polygon points="959.3,510.0 969.8,520.5 959.3,531.0 948.8,520.5" fill="#1a7c1a" stroke="#106410" stroke-width="0.7"/>
<polygon points="1127.5,480.8 1138.0,491.3 1127.5,501.8 1117.0,491.3" fill="#1a7c1a" stroke="#106410" stroke-width="0.7"/>
<text id="t49" transform="translate(879.13 526.11) scale(1.0000 1.0240)" font-size="22" text-anchor="start" font-weight="normal" font-style="normal" fill="#111" >37.5&#176;</text>
<text id="t50" transform="translate(945.98 489.61) scale(1.0000 1.0240)" font-size="22" text-anchor="start" font-weight="normal" font-style="normal" fill="#111" >30&#176;</text>
<text id="t51" transform="translate(1116.63 478.76) scale(1.0000 1.0240)" font-size="22" text-anchor="start" font-weight="normal" font-style="normal" fill="#111" >15&#176;</text>
<line x1="959.2" y1="519.3" x2="959.2" y2="500.6" stroke="#1a1a1a" stroke-width="1.6"/>
<polygon points="959.2,490.9 962.5,501.6 959.2,500.4 956.0,501.6" fill="#111"/>
<circle cx="917.5" cy="428.8" r="8.5" fill="#f80c0c" stroke="#c80c0c" stroke-width="1"/>
<circle cx="917.5" cy="449.0" r="8.5" fill="#f80c0c" stroke="#c80c0c" stroke-width="1"/>
<text id="t52" transform="translate(916.63 417.56) scale(1.0000 1.0240)" font-size="22" text-anchor="start" font-weight="normal" font-style="normal" fill="#111" ><tspan font-style="italic">D</tspan>/<tspan font-style="italic">L</tspan>=0.1</text>
<text id="t53" transform="translate(879.68 457.11) scale(1.0000 1.0240)" font-size="22" text-anchor="start" font-weight="normal" font-style="normal" fill="#111" >0.2</text>
<polygon points="1025.5,510.9 1046.5,510.9 1036.0,529.0" fill="#f418f4" stroke="#c41cc4" stroke-width="0.7"/>
<circle cx="1009.8" cy="510.0" r="8.3" fill="#f80c0c" stroke="#c80c0c" stroke-width="1"/>
<circle cx="1023.4" cy="521.9" r="8.3" fill="#f80c0c" stroke="#c80c0c" stroke-width="1"/>
<circle cx="1026.2" cy="527.5" r="8.3" fill="#f80c0c" stroke="#c80c0c" stroke-width="1"/>
<text id="t54" transform="translate(984.88 500.51) scale(1.0000 1.0240)" font-size="22" text-anchor="start" font-weight="normal" font-style="normal" fill="#111" >0.3</text>
<text id="t55" transform="translate(1010.73 476.66) scale(1.0000 1.0240)" font-size="22" text-anchor="start" font-weight="normal" font-style="normal" fill="#111" >0.5</text>
<text id="t56" transform="translate(1029.08 505.71) scale(1.0000 1.0240)" font-size="22" text-anchor="start" font-weight="normal" font-style="normal" fill="#111" >1</text>
<text id="t57" transform="translate(966.02 540.46) scale(1.0000 1.0240)" font-size="22" text-anchor="start" font-weight="normal" font-style="normal" fill="#111" >0.4</text>
<line x1="1023.4" y1="517.7" x2="1023.4" y2="490.5" stroke="#1a1a1a" stroke-width="1.8"/>
<polygon points="1023.4,479.9 1026.7,491.5 1023.4,490.3 1020.1,491.5" fill="#111"/>
<line x1="1019.9" y1="533.6" x2="1005.9" y2="533.6" stroke="#1a1a1a" stroke-width="1.8"/>
<polygon points="995.2,533.6 1006.9,530.6 1005.7,533.6 1006.9,536.6" fill="#111"/>
<polygon points="1106.1,523.0 1127.1,523.0 1116.6,541.0" fill="#f418f4" stroke="#c41cc4" stroke-width="0.7"/>
<polygon points="1097.0,534.8 1118.0,534.8 1107.5,552.8" fill="#f418f4" stroke="#c41cc4" stroke-width="0.7"/>
<polygon points="1086.1,546.1 1107.1,546.1 1096.6,564.1" fill="#f418f4" stroke="#c41cc4" stroke-width="0.7"/>
<line x1="1117.2" y1="528.1" x2="1098.7" y2="493.2" stroke="#1a1a1a" stroke-width="1.8"/>
<polygon points="1094.0,484.4 1102.2,492.5 1098.6,493.1 1096.1,495.8" fill="#111"/>
<line x1="1105.1" y1="538.4" x2="1090.3" y2="516.9" stroke="#1a1a1a" stroke-width="1.8"/>
<polygon points="1084.7,508.6 1093.8,515.7 1090.2,516.7 1088.0,519.7" fill="#111"/>
<text id="t58" transform="translate(1059.90 481.56) scale(1.0000 1.0240)" font-size="22" text-anchor="start" font-weight="normal" font-style="normal" fill="#111" >0.625</text>
<text id="t59" transform="translate(1052.98 504.36) scale(1.0000 1.0240)" font-size="22" text-anchor="start" font-weight="normal" font-style="normal" fill="#111" >0.75</text>
<text id="t60" transform="translate(1047.47 543.86) scale(1.0000 1.0240)" font-size="22" text-anchor="start" font-weight="normal" font-style="normal" fill="#111" >0.875</text>
<polygon points="1129.9,515.4 1150.9,515.4 1140.4,533.4" fill="#f418f4" stroke="#c41cc4" stroke-width="0.7"/>
<text id="t61" transform="translate(1149.82 532.72) scale(1.0000 1.0240)" font-size="22" text-anchor="start" font-weight="normal" font-style="normal" fill="#111" >0.5</text>
<polygon points="1158.7,450.3 1179.7,450.3 1169.2,468.4" fill="#f418f4" stroke="#c41cc4" stroke-width="0.7"/>
<polygon points="1160.0,477.3 1181.0,477.3 1170.5,495.4" fill="#f418f4" stroke="#c41cc4" stroke-width="0.7"/>
<text id="t62" transform="translate(1151.83 445.21) scale(1.0000 1.0240)" font-size="22" text-anchor="start" font-weight="normal" font-style="normal" fill="#111" >0.25</text>
<text id="t63" transform="translate(1146.65 511.76) scale(1.0000 1.0240)" font-size="22" text-anchor="start" font-weight="normal" font-style="normal" fill="#111" >0.375</text>
<polygon points="1260.0,427.0 1281.0,427.0 1270.5,445.0" fill="#f418f4" stroke="#c41cc4" stroke-width="0.7"/>
<text id="t64" transform="translate(1248.35 423.31) scale(1.0000 1.0240)" font-size="22" text-anchor="start" font-weight="normal" font-style="normal" fill="#111" ><tspan font-style="italic">a</tspan>/<tspan font-style="italic">b</tspan>=0</text>
<polygon points="1297.2,394.7 1318.2,394.7 1307.7,376.6" fill="#0808e6" stroke="#0808a8" stroke-width="0.7"/>
<text id="t65" transform="translate(1262.93 376.01) scale(1.0000 1.0240)" font-size="22" text-anchor="start" font-weight="normal" font-style="normal" fill="#111" ><tspan font-style="italic">l</tspan>/<tspan font-style="italic">L</tspan>=0.025</text>
<polygon points="1196.0,488.0 1217.0,488.0 1206.5,470.0" fill="#0808e6" stroke="#0808a8" stroke-width="0.7"/>
<text id="t66" transform="translate(1215.58 479.31) scale(1.0000 1.0240)" font-size="22" text-anchor="start" font-weight="normal" font-style="normal" fill="#111" >0.25</text>
<polygon points="1208.4,511.2 1229.4,511.2 1218.9,493.2" fill="#0808e6" stroke="#0808a8" stroke-width="0.7"/>
<text id="t67" transform="translate(1230.93 505.76) scale(1.0000 1.0240)" font-size="22" text-anchor="start" font-weight="normal" font-style="normal" fill="#111" >0.2</text>
<polygon points="1259.0,534.9 1280.0,534.9 1269.5,516.9" fill="#0808e6" stroke="#0808a8" stroke-width="0.7"/>
<text id="t68" transform="translate(1279.12 529.96) scale(1.0000 1.0240)" font-size="22" text-anchor="start" font-weight="normal" font-style="normal" fill="#111" >0.15</text>
<polygon points="1353.0,500.4 1374.0,500.4 1363.5,482.4" fill="#0808e6" stroke="#0808a8" stroke-width="0.7"/>
<text id="t69" transform="translate(1316.97 496.81) scale(1.0000 1.0240)" font-size="22" text-anchor="start" font-weight="normal" font-style="normal" fill="#111" >0.05</text>
<polygon points="1351.6,553.0 1372.6,553.0 1362.1,535.0" fill="#0808e6" stroke="#0808a8" stroke-width="0.7"/>
<text id="t70" transform="translate(1347.33 531.16) scale(1.0000 1.0240)" font-size="22" text-anchor="start" font-weight="normal" font-style="normal" fill="#111" >0.1</text>
</svg>
</body></html>
